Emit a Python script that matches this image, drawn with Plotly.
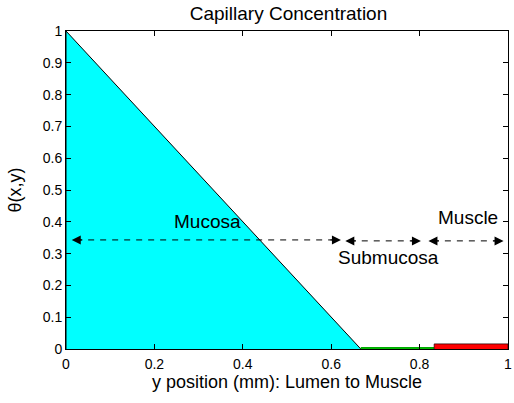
import plotly.graph_objects as go

# Data
mucosa_x = [0.0, 0.0, 0.667]
mucosa_y = [0.0, 1.0, 0.0]
submucosa_x = [0.667, 0.833]
submucosa_y = [0.004, 0.004]
muscle_x = [0.833, 0.833, 1.0, 1.0]
muscle_y = [0.0, 0.016, 0.016, 0.0]

arrow_starts = [0.013, 0.632, 0.820]
arrow_ends = [0.622, 0.803, 0.990]
arrow_levels = [0.343, 0.340, 0.340]

label_texts = ["Mucosa", "Submucosa", "Muscle"]
label_x = [0.321, 0.729, 0.909]
label_y = [0.401, 0.287, 0.413]

x_ticks = [0, 0.2, 0.4, 0.6, 0.8, 1]
x_tick_labels = ["0", "0.2", "0.4", "0.6", "0.8", "1"]
y_ticks = [0, 0.1, 0.2, 0.3, 0.4, 0.5, 0.6, 0.7, 0.8, 0.9, 1]
y_tick_labels = ["0", "0.1", "0.2", "0.3", "0.4", "0.5", "0.6", "0.7", "0.8", "0.9", "1"]

font = "Liberation Sans, Arial, sans-serif"

fig = go.Figure()
fig.add_trace(go.Scatter(x=mucosa_x, y=mucosa_y, fill="toself", fillcolor="#00FFFF",
                         mode="lines", line=dict(color="black", width=1), hoverinfo="skip"))
fig.add_trace(go.Scatter(x=submucosa_x, y=submucosa_y, fill="tozeroy", fillcolor="#00CC00",
                         mode="lines", line=dict(color="#00AA00", width=1.5), hoverinfo="skip"))
fig.add_trace(go.Scatter(x=muscle_x, y=muscle_y, fill="toself", fillcolor="#FF0000",
                         mode="lines", line=dict(color="#330000", width=0.8), hoverinfo="skip"))

annotations = []
for xs, xe, yl in zip(arrow_starts, arrow_ends, arrow_levels):
    fig.add_trace(go.Scatter(x=[xs + 0.01, xe - 0.01], y=[yl, yl], mode="lines",
                             line=dict(color="black", width=1, dash="6px,6px"), hoverinfo="skip"))
    for tip, off in ((xs, 12), (xe, -12)):
        annotations.append(dict(x=tip, y=yl, xref="x", yref="y", ax=off, ay=0,
                                axref="pixel", ayref="pixel", showarrow=True,
                                arrowhead=2, arrowsize=1.8, arrowwidth=1,
                                arrowcolor="black", text=""))

for t, lx, ly in zip(label_texts, label_x, label_y):
    annotations.append(dict(x=lx, y=ly, xref="x", yref="y", text=t, showarrow=False,
                            font=dict(family=font, size=19, color="black")))

fig.update_layout(
    width=514, height=403,
    margin=dict(l=66, r=2, t=31, b=54),
    paper_bgcolor="white", plot_bgcolor="white",
    showlegend=False,
    title=dict(text="Capillary Concentration", x=288.5 / 514, xanchor="center",
               y=1 - 13 / 403, yanchor="middle",
               font=dict(family=font, size=19, color="black")),
    annotations=annotations,
    font=dict(family=font, size=14, color="black"),
)
fig.update_xaxes(range=[0, 1], tickvals=x_ticks, ticktext=x_tick_labels,
                 ticks="inside", ticklen=5, tickcolor="black", showgrid=False, zeroline=False,
                 showline=True, linecolor="black", linewidth=1, mirror="ticks",
                 ticklabeloverflow="allow", ticklabelstandoff=2,
                 tickfont=dict(family=font, size=14),
                 title=dict(text="y position (mm): Lumen to Muscle", standoff=2,
                            font=dict(family=font, size=18)))
fig.update_yaxes(range=[0, 1], tickvals=y_ticks, ticktext=y_tick_labels,
                 ticks="inside", ticklen=5, tickcolor="black", showgrid=False, zeroline=False,
                 showline=True, linecolor="black", linewidth=1, mirror="ticks",
                 tickfont=dict(family=font, size=14),
                 title=dict(text="θ(x,y)", standoff=16, font=dict(family=font, size=18)))

fig.write_html("out.html")
